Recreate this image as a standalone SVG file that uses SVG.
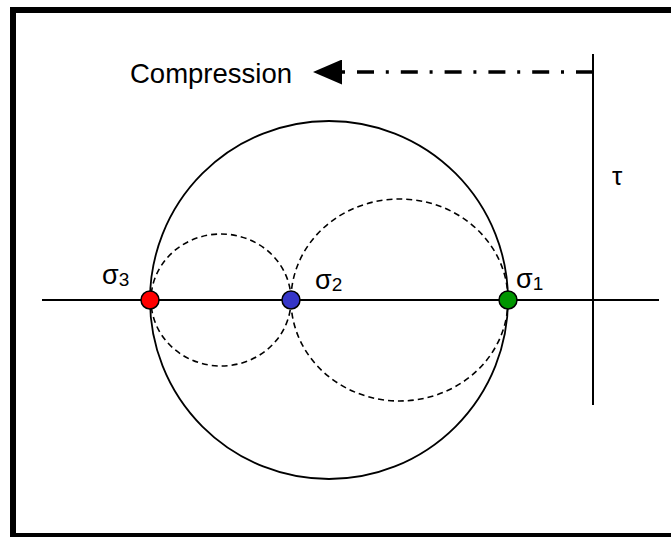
<svg xmlns="http://www.w3.org/2000/svg" width="671" height="537" viewBox="0 0 671 537">
<style>
.ax{stroke:#000;stroke-width:2;fill:none}
.c{stroke:#000;stroke-width:1.8;fill:none}
.d{stroke:#000;stroke-width:1.6;fill:none;stroke-dasharray:6 4}
.dot{stroke:#000;stroke-width:1.5}
.t{font-family:"Liberation Sans",Arial,sans-serif;fill:#000}
</style>
<defs>
<marker id="ah" markerWidth="30" markerHeight="25" refX="0" refY="12.5" orient="auto" markerUnits="userSpaceOnUse">
<path d="M0,0 L29,12.5 L0,25 Z" fill="#000"/>
</marker>
</defs>
<rect x="13" y="10" width="680" height="526" fill="#fff" stroke="#000" stroke-width="6"/>
<g id="connectors">
<line class="ax" x1="42" y1="300" x2="659" y2="300"/>
<line class="ax" x1="593" y1="54" x2="593" y2="405"/>
<path d="M593,72 H342" stroke="#000" stroke-width="3.3" fill="none" stroke-dasharray="17 12 3 11.8" marker-end="url(#ah)"/>
</g>
<g id="mohr-circle">
<circle class="c" cx="329" cy="300" r="179"/>
</g>
<g id="circle-32">
<ellipse class="d" cx="221" cy="300" rx="70" ry="66"/>
</g>
<g id="circle-21">
<ellipse class="d" cx="399.5" cy="300" rx="108.5" ry="101"/>
</g>
<g id="sigma3">
<circle class="dot" cx="150" cy="300" r="9" fill="#ff0000"/>
<text class="t" x="102" y="284" font-size="27">σ<tspan font-size="19" dy="2">3</tspan></text>
</g>
<g id="sigma2">
<circle class="dot" cx="291" cy="300" r="9" fill="#3636c8"/>
<text class="t" x="315" y="289" font-size="27">σ<tspan font-size="19" dy="2">2</tspan></text>
</g>
<g id="sigma1">
<circle class="dot" cx="508" cy="300" r="9" fill="#009600"/>
<text class="t" x="516" y="288" font-size="27">σ<tspan font-size="19" dy="2">1</tspan></text>
</g>
<g id="tau">
<text class="t" x="612" y="185" font-size="26">τ</text>
</g>
<g id="compression">
<text class="t" x="130" y="83" font-size="27.5">Compression</text>
</g>
</svg>
